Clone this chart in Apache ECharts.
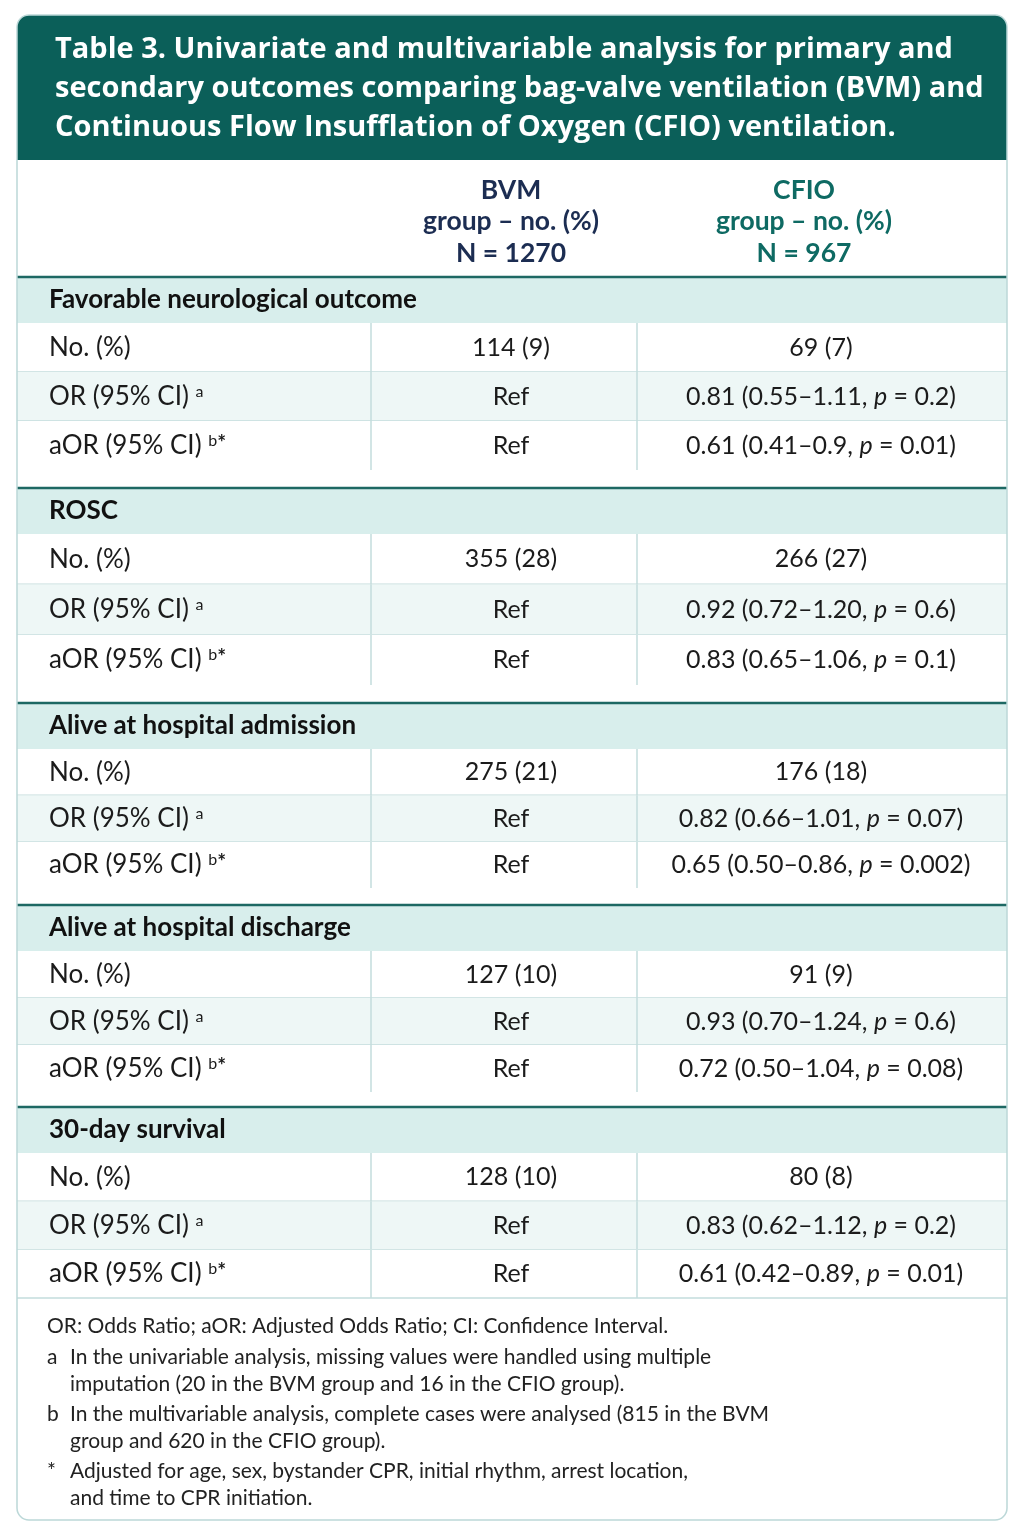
<!DOCTYPE html>
<html>
<head>
<meta charset="utf-8">
<script src="https://cdn.jsdelivr.net/npm/echarts@6/dist/echarts.min.js"></script>
<style>
  html, body { margin: 0; padding: 0; background: #ffffff; }
  #chart { width: 1024px; height: 1536px; }
</style>
</head>
<body>
<div id="chart"></div>
<script>
// table content
var titleLines = [
  'Table 3. Univariate and multivariable analysis for primary and',
  'secondary outcomes comparing bag-valve ventilation (BVM) and',
  'Continuous Flow Insufflation of Oxygen (CFIO) ventilation.'
];
var groupHeaders = [
  ['BVM', 'group \u2013 no. (%)', 'N = 1270'],
  ['CFIO', 'group \u2013 no. (%)', 'N = 967']
];
var outcomes = [
  'Favorable neurological outcome',
  'ROSC',
  'Alive at hospital admission',
  'Alive at hospital discharge',
  '30-day survival'
];
var rowLabels = ['No. (%)', 'OR (95% CI) {sup|a}', 'aOR (95% CI) {sup|b}{star|*}'];
var bvmNo = [114, 355, 275, 127, 128];
var bvmPct = [9, 28, 21, 10, 10];
var cfioNo = [69, 266, 176, 91, 80];
var cfioPct = [7, 27, 18, 9, 8];
var orEst = ['0.81', '0.92', '0.82', '0.93', '0.83'];
var orLow = ['0.55', '0.72', '0.66', '0.70', '0.62'];
var orHigh = ['1.11', '1.20', '1.01', '1.24', '1.12'];
var orP = ['0.2', '0.6', '0.07', '0.6', '0.2'];
var aorEst = ['0.61', '0.83', '0.65', '0.72', '0.61'];
var aorLow = ['0.41', '0.65', '0.50', '0.50', '0.42'];
var aorHigh = ['0.9', '1.06', '0.86', '1.04', '0.89'];
var aorP = ['0.01', '0.1', '0.002', '0.08', '0.01'];
var footIntro = 'OR: Odds Ratio; aOR: Adjusted Odds Ratio; CI: Confidence Interval.';
var footMarks = ['a', 'b', '*'];
var footTexts = [
  ['In the univariable analysis, missing values were handled using multiple',
   'imputation (20 in the BVM group and 16 in the CFIO group).'],
  ['In the multivariable analysis, complete cases were analysed (815 in the BVM',
   'group and 620 in the CFIO group).'],
  ['Adjusted for age, sex, bystander CPR, initial rhythm, arrest location,',
   'and time to CPR initiation.']
];

// layout (table units = px below the title band)
var FONT = 'Lato, "Noto Sans", sans-serif';
var TITLE_FONT = '"Open Sans", Lato, sans-serif';
var tableW = 990;
var colEdges = [0, 354, 620, 990];
var headCenters = [494, 787];
var valCenters = [494, 804];
var headH = 117;
var secTops = [117, 328, 543, 745, 947];
var secEnds = [310, 525, 728, 932, 1138];
var secH = 46;
var teal = '#0b5f59', darkLine = '#1d6863', lightLine = '#c3dcdc';
var secBg = '#d8eeec', tintBg = '#eef7f6', ink = '#1b1b1b';
var headColors = ['#1c2d52', '#0e6a63'];

// build cells: [x0, y0, x1, y1, section, row]
var cells = [[0, 0, tableW, headH, -1, -1]];
outcomes.forEach(function (name, s) {
  var top = secTops[s];
  cells.push([0, top, tableW, top + secH, s, -1]);
  var rh = (secEnds[s] - top - secH) / rowLabels.length;
  rowLabels.forEach(function (lab, r) {
    var y0 = top + secH + r * rh;
    cells.push([0, y0, tableW, y0 + rh, s, r]);
  });
});
var tableH = secEnds[secEnds.length - 1];

function col3Text(s, r) {
  if (r === 0) return cfioNo[s] + ' (' + cfioPct[s] + ')';
  if (r === 1) return orEst[s] + ' (' + orLow[s] + '\u2013' + orHigh[s] + ', {i|p} = ' + orP[s] + ')';
  return aorEst[s] + ' (' + aorLow[s] + '\u2013' + aorHigh[s] + ', {i|p} = ' + aorP[s] + ')';
}
function col2Text(s, r) {
  return r === 0 ? bvmNo[s] + ' (' + bvmPct[s] + ')' : 'Ref';
}

function renderCell(params, api) {
  var s = api.value(4), r = api.value(5);
  var a = api.coord([api.value(0), api.value(1)]);
  var b = api.coord([api.value(2), api.value(3)]);
  var x0 = a[0], y0 = a[1], w = b[0] - a[0], h = b[1] - a[1], ym = y0 + h / 2;
  var cx = function (v) { return api.coord([v, 0])[0]; };
  var kids = [];
  var bodyRich = {
    sup: { font: '16px ' + FONT, verticalAlign: 'top', fill: ink },
    star: { font: 'bold 21px ' + FONT, verticalAlign: 'top', fill: ink },
    i: { font: 'italic 25px ' + FONT, fill: ink }
  };
  if (s < 0) {
    groupHeaders.forEach(function (g, i) {
      kids.push({
        type: 'text',
        style: {
          x: cx(headCenters[i]), y: ym + 3, text: g.join('\n'),
          font: 'bold 26.5px ' + FONT, lineHeight: 31.5, fill: headColors[i],
          align: 'center', verticalAlign: 'middle'
        }
      });
    });
  } else if (r < 0) {
    kids.push({ type: 'rect', shape: { x: x0, y: y0, width: w, height: h }, style: { fill: secBg } });
    kids.push({ type: 'line', shape: { x1: x0, y1: y0, x2: x0 + w, y2: y0 }, style: { stroke: darkLine, lineWidth: 2.5 } });
    kids.push({
      type: 'text',
      style: { x: x0 + 32, y: ym, text: outcomes[s], font: 'bold 26px ' + FONT, fill: '#111', verticalAlign: 'middle' }
    });
  } else {
    kids.push({ type: 'rect', shape: { x: x0, y: y0, width: w, height: h }, style: { fill: r === 1 ? tintBg : '#ffffff' } });
    [1, 2].forEach(function (k) {
      var xx = cx(colEdges[k]);
      kids.push({ type: 'line', shape: { x1: xx, y1: y0, x2: xx, y2: y0 + h }, style: { stroke: lightLine, lineWidth: 1.5 } });
    });
    if (r < 2 || s === outcomes.length - 1) {
      kids.push({ type: 'line', shape: { x1: x0, y1: y0 + h, x2: x0 + w, y2: y0 + h }, style: { stroke: lightLine, lineWidth: 1.5 } });
    }
    kids.push({
      type: 'text',
      style: { x: x0 + 32, y: ym, text: rowLabels[r], font: '26px ' + FONT, fill: ink, verticalAlign: 'middle', rich: bodyRich }
    });
    kids.push({
      type: 'text',
      style: { x: cx(valCenters[0]), y: ym, text: col2Text(s, r), font: '25px ' + FONT, fill: ink, align: 'center', verticalAlign: 'middle' }
    });
    kids.push({
      type: 'text',
      style: { x: cx(valCenters[1]), y: ym, text: col3Text(s, r), font: '25px ' + FONT, fill: ink, align: 'center', verticalAlign: 'middle', rich: bodyRich }
    });
  }
  return { type: 'group', children: kids };
}

// footnotes
var footFont = '21px ' + FONT;
var footEls = [{
  type: 'text', x: 47, y: 1326,
  style: { text: footIntro, font: footFont, fill: '#222', verticalAlign: 'middle' }
}];
var fy = 1357;
footTexts.forEach(function (lines, k) {
  footEls.push({ type: 'text', x: 47, y: fy, style: { text: footMarks[k], font: footFont, fill: '#222', verticalAlign: 'middle' } });
  lines.forEach(function (ln, j) {
    footEls.push({ type: 'text', x: 70, y: fy + j * 27, style: { text: ln, font: footFont, fill: '#222', verticalAlign: 'middle' } });
  });
  fy += lines.length * 27 + 3;
});

var chart = echarts.init(document.getElementById('chart'), null, { renderer: 'canvas' });
chart.setOption({
  backgroundColor: '#ffffff',
  animation: false,
  grid: { left: 17, top: 160, width: tableW, height: tableH },
  xAxis: { type: 'value', min: 0, max: tableW, show: false },
  yAxis: { type: 'value', min: 0, max: tableH, inverse: true, show: false },
  graphic: [
    {
      type: 'rect', z: -10, silent: true,
      shape: { x: 17, y: 15, width: 990, height: 1505, r: 12 },
      style: { fill: '#ffffff' }
    },
    {
      type: 'rect', z: -5, silent: true,
      shape: { x: 17, y: 15, width: 990, height: 145, r: [12, 12, 0, 0] },
      style: { fill: teal }
    },
    {
      type: 'text', x: 55, y: 89, silent: true,
      style: {
        text: titleLines.join('\n'), font: 'bold 29px ' + TITLE_FONT, lineHeight: 39,
        fill: '#ffffff', verticalAlign: 'middle'
      }
    },
    {
      type: 'rect', z: 100, silent: true,
      shape: { x: 17, y: 15, width: 990, height: 1505, r: 12 },
      style: { fill: 'none', stroke: '#bcd8d8', lineWidth: 1.5 }
    }
  ].concat(footEls),
  series: [{
    type: 'custom',
    coordinateSystem: 'cartesian2d',
    clip: false,
    silent: true,
    renderItem: renderCell,
    encode: { x: [0, 2], y: [1, 3] },
    data: cells
  }]
});
</script>
</body>
</html>
